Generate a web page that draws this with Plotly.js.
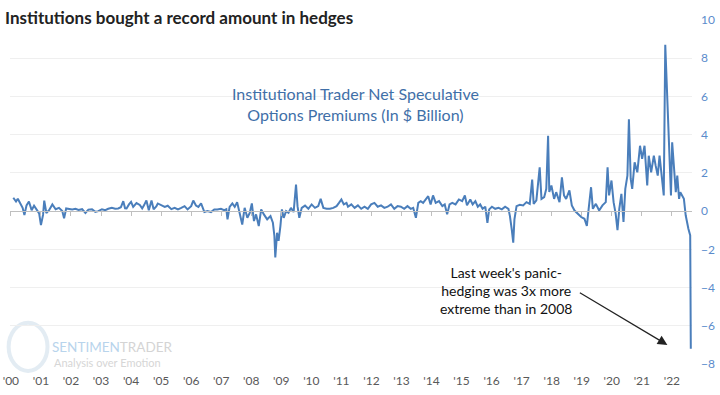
<!DOCTYPE html>
<html>
<head>
<meta charset="utf-8">
<script src="https://cdn.plot.ly/plotly-3.0.1.min.js"></script>
<style>html,body{margin:0;padding:0;background:#fff;}#chart{width:720px;height:395px;}</style>
</head>
<body>
<div id="chart"></div>
<script>
// Decimal-year dates of the sampled weekly readings
const weeks = [
2000.08,2000.17,2000.23,2000.30,2000.39,2000.45,2000.52,2000.60,2000.69,2000.77,2000.88,2000.94,
2001.00,2001.07,2001.11,2001.18,2001.27,2001.38,2001.49,2001.60,2001.71,2001.77,2001.84,2001.93,
2002.04,2002.15,2002.25,2002.37,2002.48,2002.58,2002.70,2002.81,2002.91,
2003.03,2003.14,2003.24,2003.36,2003.47,2003.57,2003.66,2003.74,2003.80,2003.85,2003.93,
2004.00,2004.07,2004.18,2004.29,2004.37,2004.43,2004.51,2004.59,2004.68,2004.75,2004.84,2004.89,
2005.00,2005.12,2005.22,2005.34,2005.45,2005.56,2005.67,2005.78,2005.88,
2006.00,2006.07,2006.16,2006.24,2006.33,2006.44,2006.54,2006.66,2006.77,2006.87,2006.99,
2007.10,2007.17,2007.21,2007.28,2007.37,2007.45,2007.53,2007.62,2007.70,2007.78,2007.87,2007.95,
2008.02,2008.09,2008.16,2008.25,2008.33,2008.42,2008.53,2008.64,2008.72,2008.77,2008.80,2008.86,2008.91,2008.97,
2009.02,2009.08,2009.16,2009.24,2009.32,2009.41,2009.49,2009.54,2009.60,2009.68,2009.79,2009.90,
2010.01,2010.12,2010.23,2010.31,2010.40,2010.51,2010.62,2010.73,2010.84,2010.92,
2011.00,2011.08,2011.17,2011.22,2011.33,2011.44,2011.55,2011.66,2011.77,2011.88,2011.99,
2012.10,2012.21,2012.32,2012.43,2012.54,2012.65,2012.76,2012.87,2012.98,
2013.09,2013.20,2013.31,2013.39,2013.48,2013.56,2013.64,2013.72,2013.81,2013.89,2013.97,
2014.05,2014.14,2014.25,2014.36,2014.44,2014.52,2014.60,2014.69,2014.80,2014.91,
2015.02,2015.11,2015.18,2015.29,2015.37,2015.46,2015.54,2015.62,2015.70,2015.79,2015.86,2015.92,
2016.01,2016.12,2016.23,2016.34,2016.45,2016.56,2016.61,2016.67,2016.72,2016.76,2016.80,2016.83,2016.94,
2017.05,2017.16,2017.27,2017.35,2017.40,2017.49,2017.60,2017.66,2017.75,2017.82,2017.88,2017.92,2017.99,
2018.08,2018.15,2018.26,2018.34,2018.41,2018.48,2018.59,2018.67,2018.76,2018.87,2018.98,
2019.09,2019.17,2019.23,2019.31,2019.37,2019.47,2019.58,2019.69,2019.80,2019.86,2019.91,2019.99,
2020.06,2020.13,2020.19,2020.25,2020.32,2020.39,2020.45,2020.52,2020.57,2020.63,2020.68,2020.76,2020.85,2020.94,
2021.01,2021.09,2021.18,2021.23,2021.31,2021.40,2021.46,2021.53,2021.59,2021.65,2021.73,2021.78,2021.84,2021.88,2021.93,2021.97,
2022.01,2022.08,2022.13,2022.18,2022.24,2022.28,2022.34,2022.40,2022.46,2022.50,2022.55,2022.61,2022.63
];
// Institutional trader net speculative options premiums ($ billion)
const premiums = [
0.70,0.50,0.65,0.40,0.17,-0.20,0.30,0.50,0.05,0.28,0.00,-0.12,
-0.73,-0.20,0.55,-0.10,0.05,0.35,0.10,0.17,0.00,-0.38,0.14,0.10,
0.09,0.12,0.06,0.10,-0.10,0.08,0.10,-0.04,0.00,
0.10,0.05,0.12,0.17,0.12,0.14,0.20,0.52,0.15,0.14,0.35,
0.48,0.22,0.42,0.32,0.14,0.30,0.56,0.05,0.56,0.10,0.25,0.40,
0.31,0.22,0.28,0.10,0.17,0.09,0.17,0.26,0.09,
0.26,0.55,0.29,0.22,0.40,-0.05,0.00,-0.05,0.09,0.09,0.12,
0.05,0.10,-0.43,0.22,0.40,0.22,0.47,-0.25,-0.70,0.17,-0.35,-0.09,
0.40,-0.52,-0.17,-0.78,0.09,-0.17,-0.43,-0.26,-0.61,-1.30,-2.43,-1.13,-1.56,-0.78,
0.09,-0.35,0.00,-0.09,0.17,-0.05,1.39,0.26,-0.35,0.17,0.29,0.12,
0.35,0.17,0.26,0.64,0.17,0.12,0.12,0.17,0.26,0.43,
0.61,0.35,0.43,0.23,0.35,0.17,0.30,0.12,0.23,0.12,0.35,
0.43,0.23,0.30,0.17,0.23,0.35,0.12,0.26,0.23,
0.12,0.26,0.12,0.17,-0.35,0.43,0.52,0.43,0.61,0.78,0.35,
0.82,0.43,0.52,0.26,0.35,-0.17,0.35,0.43,0.35,0.61,
0.52,0.82,0.30,0.61,0.35,0.52,0.23,0.35,0.12,0.23,-0.61,0.09,
0.23,0.12,0.17,0.09,0.23,0.12,-0.26,-0.95,-1.65,-0.43,0.17,0.26,0.33,
0.30,0.47,0.38,1.65,0.38,0.56,2.29,0.64,0.73,1.17,3.94,1.00,1.34,
0.64,0.99,0.47,1.77,0.82,0.64,1.08,0.30,0.03,-0.14,-0.31,
-0.40,-0.78,0.12,1.25,0.12,0.38,0.03,0.30,0.47,2.29,0.82,1.60,
0.47,-0.14,-1.00,0.12,0.90,-0.57,1.16,1.86,4.80,1.68,1.16,2.55,2.03,3.42,
2.73,3.42,1.34,2.90,2.03,2.90,2.38,1.86,2.90,2.03,0.82,8.70,6.00,4.60,1.86,0.82,
3.60,2.03,0.99,1.86,0.64,0.99,0.82,0.64,-0.22,-0.57,-0.92,-1.27,-7.20
];
const yearTicks = [2000,2001,2002,2003,2004,2005,2006,2007,2008,2009,2010,2011,2012,2013,2014,2015,2016,2017,2018,2019,2020,2021,2022];
const yearLabels = ["'00","'01","'02","'03","'04","'05","'06","'07","'08","'09","'10","'11","'12","'13","'14","'15","'16","'17","'18","'19","'20","'21","'22"];
const yTicks = [-8,-6,-4,-2,0,2,4,6,8,10];

const yMin = -8, yMax = 10;
const zeroPos = (0 - yMin) / (yMax - yMin);
const xRange = [1999.97, 2022.67];

const trace = {
  x: weeks, y: premiums, type: 'scatter', mode: 'lines',
  line: {color: '#4a7ebb', width: 2}, hoverinfo: 'skip', showlegend: false
};
const tickTrace = {
  x: [weeks[0]], y: [0], xaxis: 'x2', yaxis: 'y', type: 'scatter', mode: 'none',
  hoverinfo: 'skip', showlegend: false
};

const font = 'Lato, "Open Sans", sans-serif';
const layout = {
  width: 720, height: 395,
  margin: {l: 10, r: 28, t: 20, b: 31},
  paper_bgcolor: '#ffffff', plot_bgcolor: '#ffffff',
  font: {family: font},
  title: {
    text: '<b>Institutions bought a record amount in hedges</b>',
    font: {family: font, size: 17, color: '#222222'},
    x: 0.007, xanchor: 'left', xref: 'container',
    y: 0.955, yanchor: 'middle', yref: 'container'
  },
  xaxis: {
    range: xRange,
    tickmode: 'array', tickvals: yearTicks, ticktext: yearLabels,
    ticks: '', showgrid: false, zeroline: false, showline: false,
    tickfont: {family: font, size: 12, color: '#595959'},
    ticklabelstandoff: 8, ticklabeloverflow: 'allow', fixedrange: true
  },
  xaxis2: {
    range: xRange, overlaying: 'x', anchor: 'free', position: zeroPos,
    tickmode: 'array', tickvals: yearTicks, showticklabels: false,
    ticks: 'outside', ticklen: 4, tickcolor: '#bfbfbf', tickwidth: 1,
    showline: true, linecolor: '#bfbfbf', linewidth: 1, showgrid: false, zeroline: false
  },
  yaxis: {
    side: 'right', range: [yMin, yMax],
    tickmode: 'array', tickvals: yTicks,
    showgrid: true, gridcolor: '#efefef', gridwidth: 1,
    zeroline: false, showline: false, ticks: '',
    tickfont: {family: font, size: 12, color: '#5b8ccc'},
    ticklabelstandoff: 8, fixedrange: true
  },
  annotations: [
    {
      xref: 'paper', yref: 'paper', x: 0.507, y: 0.755, xanchor: 'center', yanchor: 'middle',
      text: 'Institutional Trader Net Speculative<br>Options Premiums (In $ Billion)',
      showarrow: false, align: 'center',
      font: {family: font, size: 16, color: '#3f6fa8'}
    },
    {
      xref: 'paper', yref: 'paper', x: 0.727, y: 0.2135, xanchor: 'center', yanchor: 'middle',
      text: "Last week's panic-<br>hedging was 3x more<br>extreme than in 2008",
      showarrow: false, align: 'center',
      font: {family: font, size: 14, color: '#111111'}
    },
    {
      xref: 'x', yref: 'y', x: 2021.85, y: -7.0,
      ax: -89, ay: -53, axref: 'pixel', ayref: 'pixel',
      showarrow: true, arrowhead: 2, arrowsize: 1.6, arrowwidth: 1.2, arrowcolor: '#222222', text: ''
    },
    {
      xref: 'paper', yref: 'paper', x: 0.059, y: 0.05, xanchor: 'left', yanchor: 'middle',
      text: '<span style="color:#b8d4ec">SENTIMEN</span><span style="color:#d4d4d4">TRADER</span>',
      showarrow: false, font: {family: font, size: 13.5}
    },
    {
      xref: 'paper', yref: 'paper', x: 0.061, y: 0.003, xanchor: 'left', yanchor: 'middle',
      text: 'Analysis over Emotion', showarrow: false,
      font: {family: font, size: 11, color: '#d6d6d6'}
    }
  ],
  shapes: [
    {type: 'circle', xref: 'paper', yref: 'paper', x0: -0.002, x1: 0.055, y0: -0.02, y1: 0.12,
     line: {color: '#e3ecf3', width: 4}, layer: 'below'}
  ]
};

Plotly.newPlot('chart', [trace, tickTrace], layout, {displayModeBar: false, staticPlot: true});
</script>
</body>
</html>
